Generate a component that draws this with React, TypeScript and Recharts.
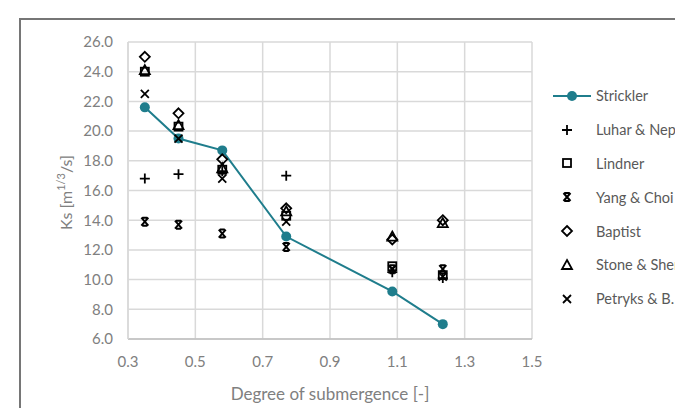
import { CartesianGrid, Legend, Scatter, ScatterChart, XAxis, YAxis } from "recharts";

const submergence = [0.35, 0.45, 0.58, 0.77, 1.085, 1.235];

const strickler = [21.6, 19.5, 18.7, 12.9, 9.2, 7.0];
const luharNepf = [16.8, 17.1, 17.3, 17.0, 10.5, 10.1];
const lindner = [24.0, 20.3, 17.4, 14.3, 10.9, 10.3];
const yangChoi = [13.9, 13.7, 13.1, 12.2, 10.7, 10.7];
const baptist = [25.0, 21.2, 18.1, 14.8, 12.7, 14.0];
const stoneShen = [24.1, 20.4, 17.5, 14.6, 12.9, 13.8];
const petryks = [22.5, 19.5, 16.8, 13.9, 10.7, 10.2];

const xTicks = [0.3, 0.5, 0.7, 0.9, 1.1, 1.3, 1.5];
const yTicks = [6, 8, 10, 12, 14, 16, 18, 20, 22, 24, 26];

const TEAL = "#1f7d8c";
const FONT = "Lato, 'Open Sans', sans-serif";

type Kind = "plus" | "square" | "star" | "diamond" | "triangle" | "cross";

const toPoints = (ys: number[]) => submergence.map((x, i) => ({ x, y: ys[i] }));

function Marker({ kind, cx, cy }: { kind: Kind; cx: number; cy: number }) {
    const s = { stroke: "#000", strokeWidth: 1.8, fill: "none" };
    const r = 4;
    switch (kind) {
        case "plus":
            return <path d={`M${cx - 5},${cy}H${cx + 5}M${cx},${cy - 5}V${cy + 5}`} {...s} />;
        case "square":
            return <rect x={cx - r} y={cy - r} width={2 * r} height={2 * r} {...s} />;
        case "star":
            return (
                <path
                    d={`M${cx - 3.5},${cy - 4}L${cx + 3.5},${cy + 4}M${cx + 3.5},${cy - 4}L${cx - 3.5},${cy + 4}M${cx - 2.5},${cy - 4}H${cx + 2.5}M${cx - 2.5},${cy + 4}H${cx + 2.5}`}
                    {...s}
                    strokeWidth={2}
                />
            );
        case "diamond":
            return <path d={`M${cx},${cy - 5}L${cx + 5},${cy}L${cx},${cy + 5}L${cx - 5},${cy}Z`} {...s} />;
        case "triangle":
            return <path d={`M${cx},${cy - 5}L${cx + 5},${cy + 4}L${cx - 5},${cy + 4}Z`} {...s} />;
        case "cross":
            return <path d={`M${cx - 4},${cy - 4}L${cx + 4},${cy + 4}M${cx + 4},${cy - 4}L${cx - 4},${cy + 4}`} {...s} />;
    }
}

const shapeOf = (kind: Kind) => (props: any) => <Marker kind={kind} cx={props.cx} cy={props.cy} />;

const markerSeries: { name: string; kind: Kind; values: number[] }[] = [
    { name: "Luhar & Nepf", kind: "plus", values: luharNepf },
    { name: "Lindner", kind: "square", values: lindner },
    { name: "Yang & Choi", kind: "star", values: yangChoi },
    { name: "Baptist", kind: "diamond", values: baptist },
    { name: "Stone & Shen", kind: "triangle", values: stoneShen },
    { name: "Petryks & B.", kind: "cross", values: petryks },
];

function LegendBox() {
    const row = { height: 33.8, display: "flex", alignItems: "center", whiteSpace: "nowrap" as const };
    const text = { marginLeft: 5, fontSize: 14.5, color: "#595959", fontFamily: FONT };
    return (
        <div>
            <div style={row}>
                <svg width={46} height={20}>
                    <line x1={8} y1={10} x2={46} y2={10} stroke={TEAL} strokeWidth={2} />
                    <circle cx={27} cy={10} r={5} fill={TEAL} />
                </svg>
                <span style={text}>Strickler</span>
            </div>
            {markerSeries.map((m) => (
                <div key={m.name} style={row}>
                    <svg width={46} height={20}>
                        <Marker kind={m.kind} cx={22} cy={10} />
                    </svg>
                    <span style={text}>{m.name}</span>
                </div>
            ))}
        </div>
    );
}

function YLabel(props: any) {
    const vb = props.viewBox;
    const cx = vb.x + 57;
    const cy = vb.y + vb.height / 2 + 2;
    return (
        <text
            x={cx}
            y={cy}
            transform={`rotate(-90, ${cx}, ${cy})`}
            textAnchor="middle"
            dominantBaseline="central"
            fill="#808080"
            fontSize={16}
            fontFamily={FONT}
        >
            Ks [m<tspan fontSize={11} dy={-5}>1/3</tspan>
            <tspan dy={5}>/s]</tspan>
        </text>
    );
}

export default function App() {
    return (
        <div style={{ position: "relative", width: 700, height: 410, overflow: "hidden" }}>
            <style>{`html, body { overflow: hidden; }`}</style>
            <div
                style={{
                    position: "absolute",
                    left: 11,
                    top: 10,
                    width: 740,
                    height: 440,
                    border: "2px solid #767676",
                    boxSizing: "border-box",
                }}
            />
            <ScatterChart width={700} height={400} margin={{ top: 34, right: 176, bottom: 39, left: 0 }}>
                <CartesianGrid stroke="#d9d9d9" strokeWidth={1.5} />
                <XAxis
                    type="number"
                    dataKey="x"
                    domain={[0.3, 1.5]}
                    ticks={xTicks}
                    tickFormatter={(v: number) => v.toFixed(1)}
                    axisLine={{ stroke: "#bfbfbf", strokeWidth: 1.5 }}
                    tickLine={false}
                    tickSize={6}
                    tickMargin={11}
                    tick={{ fill: "#808080", fontSize: 15, fontFamily: FONT }}
                    height={30}
                    label={{
                        value: "Degree of submergence [-]",
                        position: "bottom",
                        offset: 19,
                        fill: "#808080",
                        fontSize: 17,
                        fontFamily: FONT,
                    }}
                />
                <YAxis
                    type="number"
                    dataKey="y"
                    domain={[6, 26]}
                    ticks={yTicks}
                    tickFormatter={(v: number) => v.toFixed(1)}
                    axisLine={{ stroke: "#d9d9d9", strokeWidth: 1.5 }}
                    tickLine={false}
                    tickSize={6}
                    tickMargin={9}
                    width={120}
                    tick={{ fill: "#808080", fontSize: 15, fontFamily: FONT }}
                    label={<YLabel />}
                />
                <Legend
                    layout="vertical"
                    align="center"
                    verticalAlign="middle"
                    wrapperStyle={{ left: 537, top: 71, width: 160 }}
                    content={() => <LegendBox />}
                />
                <Scatter
                    name="Strickler"
                    data={toPoints(strickler)}
                    fill={TEAL}
                    line={{ stroke: TEAL, strokeWidth: 2 }}
                    shape={(p: any) => <circle cx={p.cx} cy={p.cy} r={5} fill={TEAL} />}
                    isAnimationActive={false}
                />
                {markerSeries.map((m) => (
                    <Scatter
                        key={m.name}
                        name={m.name}
                        data={toPoints(m.values)}
                        shape={shapeOf(m.kind)}
                        isAnimationActive={false}
                    />
                ))}
            </ScatterChart>
        </div>
    );
}
